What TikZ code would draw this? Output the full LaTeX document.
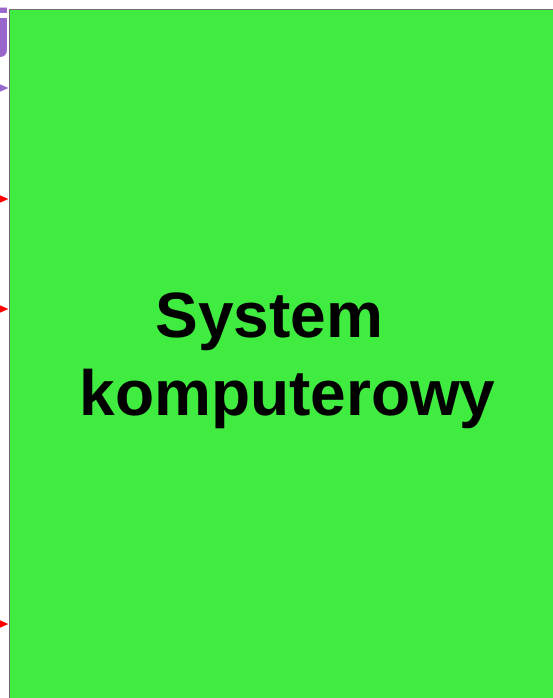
\documentclass[tikz,border=0pt]{standalone}
\usepackage{fontspec}
\setmainfont{Liberation Sans}
\usetikzlibrary{arrows.meta}
\definecolor{sysgreen}{RGB}{64,236,64}
\definecolor{flowpurple}{RGB}{153,102,204}
\definecolor{flowred}{RGB}{255,0,0}
\definecolor{edgegray}{RGB}{112,112,112}
\begin{document}
\begin{tikzpicture}[x=1pt,y=-1pt,
  flow/.style={line width=2pt,-{Triangle[length=11pt,width=9pt]}},
  sysbox/.style={draw=edgegray,line width=1pt,fill=sysgreen,anchor=north west,
    minimum width=557pt,minimum height=701pt,inner sep=0pt,align=center,
    font=\bfseries\fontsize{64}{78}\selectfont}]
\useasboundingbox (0,0) rectangle (553,698);
\clip (0,0) rectangle (553,698);
% tail of a label running in from the left
\node[text=flowpurple,font=\bfseries\fontsize{53}{60}\selectfont,anchor=base east,inner sep=0pt] (tail) at (11,47) {j};
% the system block
\node[sysbox] (sys) at (8.5,9.5) {System\hspace*{36pt}\\komputerowy};
% incoming flows
\coordinate (p1) at (-40,88);
\coordinate (r1) at (-40,199);
\coordinate (r2) at (-40,309);
\coordinate (r3) at (-40,624);
\draw[flow,flowpurple] (p1) -- (sys.west |- p1);
\draw[flow,flowred] (r1) -- (sys.west |- r1);
\draw[flow,flowred] (r2) -- (sys.west |- r2);
\draw[flow,flowred] (r3) -- (sys.west |- r3);
\end{tikzpicture}
\end{document}
